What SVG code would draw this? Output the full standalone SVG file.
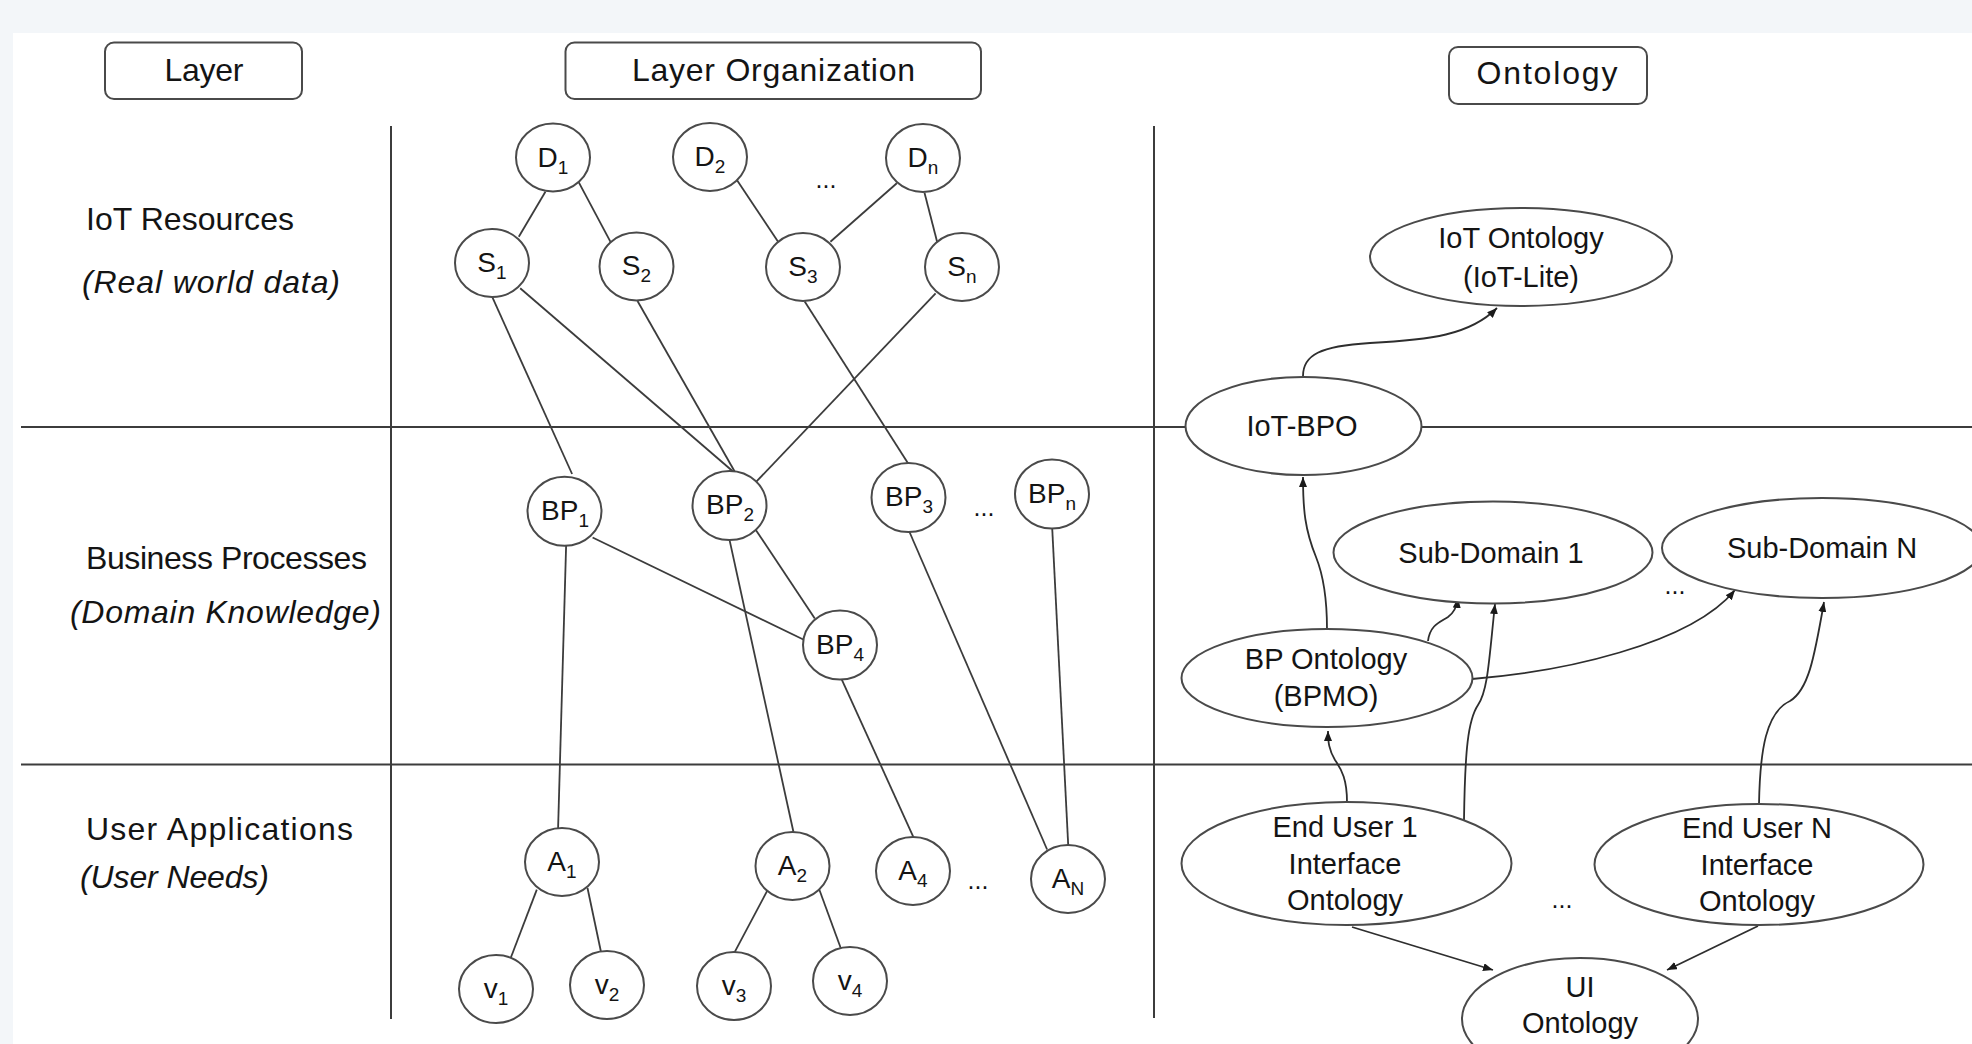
<svg xmlns="http://www.w3.org/2000/svg" width="1972" height="1044" viewBox="0 0 1972 1044">
<defs>
<style>
text{font-family:'Liberation Sans',Arial,sans-serif;fill:#141414}
.hdr{font-size:32px;text-anchor:middle}
.lbl{font-size:32px}
.it{font-size:32px;font-style:italic}
.nd ellipse{fill:#fff;stroke:#4a4a4a;stroke-width:2}
.nt{font-size:28px;text-anchor:middle}
.bt{font-size:28px;text-anchor:middle}
.sub{font-size:19px}
.bsub{font-size:19px}
.on ellipse{fill:#fff;stroke:#4a4a4a;stroke-width:2}
.ot{font-size:29px;text-anchor:middle}
.dots{font-size:25px;text-anchor:middle}
.grid line{stroke:#3c3c3c;stroke-width:2}
.edges line{stroke:#3c3c3c;stroke-width:1.8}
.arrows path{fill:none;stroke:#2e2e2e;stroke-width:1.8;marker-end:url(#ah)}
.box{fill:#fff;stroke:#4a4a4a;stroke-width:2}
</style>
<marker id="ah" viewBox="0 0 10 8" refX="10" refY="4" markerWidth="10" markerHeight="8" markerUnits="userSpaceOnUse" orient="auto">
<path d="M0,0 L10,4 L0,8 z" fill="#1a1a1a"/>
</marker>
</defs>
<rect x="0" y="0" width="1972" height="1044" fill="#f3f6f9"/>
<rect x="13" y="33" width="1959" height="1011" fill="#ffffff"/>

<g id="headers">
<g id="hdr-layer"><rect class="box" x="105" y="42.5" width="197" height="56.5" rx="9"/><text class="hdr" x="204" y="81" textLength="79">Layer</text></g>
<g id="hdr-org"><rect class="box" x="565.5" y="42.5" width="415.5" height="56.5" rx="9"/><text class="hdr" x="773.5" y="81" textLength="283">Layer Organization</text></g>
<g id="hdr-onto"><rect class="box" x="1449" y="47" width="198" height="57" rx="9"/><text class="hdr" x="1547" y="84" textLength="141">Ontology</text></g>
</g>

<g id="layer-labels">
<text class="lbl" x="86" y="230" textLength="208">IoT Resources</text>
<text class="it" x="82" y="293" textLength="258">(Real world data)</text>
<text class="lbl" x="86" y="569" textLength="281">Business Processes</text>
<text class="it" x="70" y="623" textLength="311">(Domain Knowledge)</text>
<text class="lbl" x="86" y="840" textLength="267">User Applications</text>
<text class="it" x="80" y="888" textLength="189">(User Needs)</text>
</g>

<g id="grid" class="grid">
<line x1="391" y1="126" x2="391" y2="1019"/>
<line x1="1154" y1="126" x2="1154" y2="1018"/>
<line x1="21" y1="427" x2="1972" y2="427"/>
<line x1="21" y1="764.5" x2="1972" y2="764.5"/>
</g>

<g id="connectors">
<g class="edges">
<line x1="545.4" y1="191.7" x2="518.8" y2="236.7"/>
<line x1="578.4" y1="181.7" x2="610.9" y2="242.7"/>
<line x1="736.9" y1="180" x2="778.1" y2="241.7"/>
<line x1="896.8" y1="183.3" x2="830.4" y2="241.7"/>
<line x1="924.5" y1="192.7" x2="937.1" y2="241.7"/>
<line x1="492.1" y1="296.7" x2="572.1" y2="474"/>
<line x1="520.2" y1="288.3" x2="734.5" y2="472.7"/>
<line x1="637.5" y1="301" x2="735.4" y2="472.7"/>
<line x1="804.7" y1="301.5" x2="908" y2="463.3"/>
<line x1="935.6" y1="293.3" x2="756.3" y2="481.7"/>
<line x1="566.1" y1="546" x2="558.1" y2="828.3"/>
<line x1="592.6" y1="537.5" x2="806.4" y2="641"/>
<line x1="755.5" y1="529.4" x2="814.8" y2="618.4"/>
<line x1="729.4" y1="539.4" x2="793.4" y2="831.8"/>
<line x1="841.8" y1="679.6" x2="913.3" y2="836.8"/>
<line x1="909.5" y1="532" x2="1047.1" y2="849.5"/>
<line x1="1052.2" y1="528" x2="1068.2" y2="845"/>
<line x1="536.8" y1="889.6" x2="510.7" y2="958"/>
<line x1="587.5" y1="888" x2="601" y2="952"/>
<line x1="767.3" y1="890.7" x2="733.6" y2="954.2"/>
<line x1="819" y1="888.8" x2="840.9" y2="948.5"/>
</g>
<g class="arrows">
<path d="M1303,376 C1303,355 1320,346 1370,343 C1430,340 1470,335 1497,308"/>
<path d="M1327,629 C1327,595 1322,572 1316,557 C1305,530 1303,510 1303,477"/>
<path d="M1428,641 C1430,625 1440,622 1448,617 C1455,612 1457,606 1458,598"/>
<path d="M1472,679 C1560,672 1690,645 1735,590"/>
<path d="M1464,820 C1465,750 1468,720 1478,705 C1488,690 1489,660 1495,604"/>
<path d="M1759,804 C1760,750 1766,712 1790,701 C1808,690 1814,660 1824,602"/>
<path d="M1347,802 C1347,780 1342,770 1335,760 C1329,750 1328,742 1328,731"/>
<path d="M1352,927 L1493,970"/>
<path d="M1758,926 L1667,970"/>
</g>
</g>

<g id="nodes">
<g id="n-D1" class="nd"><ellipse cx="553" cy="157.5" rx="37" ry="34"/><text class="nt" x="553" y="167">D<tspan class="sub" dy="7">1</tspan></text></g>
<g id="n-D2" class="nd"><ellipse cx="710" cy="157" rx="37" ry="34"/><text class="nt" x="710" y="166">D<tspan class="sub" dy="7">2</tspan></text></g>
<g id="n-Dn" class="nd"><ellipse cx="923" cy="158" rx="37" ry="34"/><text class="nt" x="923" y="167">D<tspan class="sub" dy="7">n</tspan></text></g>
<g id="n-S1" class="nd"><ellipse cx="492" cy="263" rx="37" ry="34"/><text class="nt" x="492" y="272">S<tspan class="sub" dy="7">1</tspan></text></g>
<g id="n-S2" class="nd"><ellipse cx="636.5" cy="266.5" rx="37" ry="34"/><text class="nt" x="636.5" y="275">S<tspan class="sub" dy="7">2</tspan></text></g>
<g id="n-S3" class="nd"><ellipse cx="803" cy="267" rx="37" ry="34"/><text class="nt" x="803" y="276">S<tspan class="sub" dy="7">3</tspan></text></g>
<g id="n-Sn" class="nd"><ellipse cx="962" cy="267" rx="37" ry="34"/><text class="nt" x="962" y="276">S<tspan class="sub" dy="7">n</tspan></text></g>
<g id="n-BP1" class="nd"><ellipse cx="564.5" cy="511.3" rx="37" ry="34.5"/><text class="bt" x="565" y="520">BP<tspan class="bsub" dy="7">1</tspan></text></g>
<g id="n-BP2" class="nd"><ellipse cx="729.5" cy="505.5" rx="37" ry="34.5"/><text class="bt" x="730" y="514">BP<tspan class="bsub" dy="7">2</tspan></text></g>
<g id="n-BP3" class="nd"><ellipse cx="908.5" cy="497.5" rx="37" ry="34.5"/><text class="bt" x="909" y="506">BP<tspan class="bsub" dy="7">3</tspan></text></g>
<g id="n-BPn" class="nd"><ellipse cx="1052" cy="494" rx="37" ry="34.5"/><text class="bt" x="1052" y="503">BP<tspan class="bsub" dy="7">n</tspan></text></g>
<g id="n-BP4" class="nd"><ellipse cx="840" cy="645" rx="37" ry="34.5"/><text class="bt" x="840" y="654">BP<tspan class="bsub" dy="7">4</tspan></text></g>
<g id="n-A1" class="nd"><ellipse cx="562" cy="862" rx="37" ry="34"/><text class="nt" x="562" y="871">A<tspan class="sub" dy="7">1</tspan></text></g>
<g id="n-A2" class="nd"><ellipse cx="792.5" cy="866" rx="37" ry="34"/><text class="nt" x="792.5" y="875">A<tspan class="sub" dy="7">2</tspan></text></g>
<g id="n-A4" class="nd"><ellipse cx="913" cy="871" rx="37" ry="34"/><text class="nt" x="913" y="880">A<tspan class="sub" dy="7">4</tspan></text></g>
<g id="n-AN" class="nd"><ellipse cx="1068" cy="879" rx="37" ry="34"/><text class="nt" x="1068" y="888">A<tspan class="sub" dy="7">N</tspan></text></g>
<g id="n-v1" class="nd"><ellipse cx="496" cy="989" rx="37" ry="34"/><text class="nt" x="496" y="998">v<tspan class="sub" dy="7">1</tspan></text></g>
<g id="n-v2" class="nd"><ellipse cx="607" cy="985" rx="37" ry="34"/><text class="nt" x="607" y="994">v<tspan class="sub" dy="7">2</tspan></text></g>
<g id="n-v3" class="nd"><ellipse cx="734" cy="986" rx="37" ry="34"/><text class="nt" x="734" y="995">v<tspan class="sub" dy="7">3</tspan></text></g>
<g id="n-v4" class="nd"><ellipse cx="850" cy="981" rx="37" ry="34"/><text class="nt" x="850" y="990">v<tspan class="sub" dy="7">4</tspan></text></g>

<g id="o-iot" class="on"><ellipse cx="1521" cy="257" rx="151" ry="49"/><text class="ot" x="1521" y="248">IoT Ontology</text><text class="ot" x="1521" y="287">(IoT-Lite)</text></g>
<g id="o-iotbpo" class="on"><ellipse cx="1303.5" cy="426" rx="118" ry="49"/><text class="ot" x="1302" y="436">IoT-BPO</text></g>
<g id="o-sub1" class="on"><ellipse cx="1493" cy="552.5" rx="159.5" ry="51"/><text class="ot" x="1491" y="563">Sub-Domain 1</text></g>
<g id="o-subN" class="on"><ellipse cx="1822" cy="548" rx="160" ry="50"/><text class="ot" x="1822" y="558">Sub-Domain N</text></g>
<g id="o-bp" class="on"><ellipse cx="1327" cy="678" rx="145.5" ry="49"/><text class="ot" x="1326" y="669">BP Ontology</text><text class="ot" x="1326" y="706">(BPMO)</text></g>
<g id="o-eu1" class="on"><ellipse cx="1346.5" cy="863.5" rx="165" ry="61.5"/><text class="ot" x="1345" y="837">End User 1</text><text class="ot" x="1345" y="874">Interface</text><text class="ot" x="1345" y="910">Ontology</text></g>
<g id="o-euN" class="on"><ellipse cx="1759" cy="864.5" rx="164.5" ry="60.5"/><text class="ot" x="1757" y="838">End User N</text><text class="ot" x="1757" y="875">Interface</text><text class="ot" x="1757" y="911">Ontology</text></g>
<g id="o-ui" class="on"><ellipse cx="1580" cy="1019" rx="118" ry="61"/><text class="ot" x="1580" y="997">UI</text><text class="ot" x="1580" y="1033">Ontology</text></g>
</g>

<g id="ellipses">
<text class="dots" x="826" y="188">...</text>
<text class="dots" x="984" y="516">...</text>
<text class="dots" x="978" y="889">...</text>
<text class="dots" x="1675" y="594">...</text>
<text class="dots" x="1562" y="908">...</text>
</g>
</svg>
